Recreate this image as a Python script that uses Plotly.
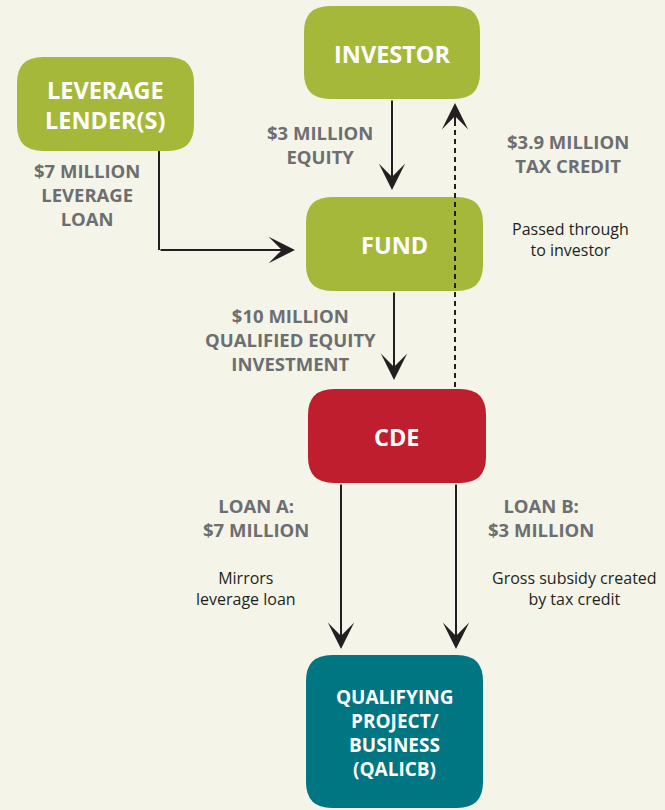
import plotly.graph_objects as go

# ---------------- data ----------------
node_labels = ["INVESTOR", "LEVERAGE<br>LENDER(S)", "FUND", "CDE",
               "QUALIFYING<br>PROJECT/<br>BUSINESS<br>(QALICB)"]
flow_labels = ["$3 MILLION<br>EQUITY", "$7 MILLION<br>LEVERAGE<br>LOAN",
               "$3.9 MILLION<br>TAX CREDIT",
               "$10 MILLION<br>QUALIFIED EQUITY<br>INVESTMENT",
               "LOAN A:<br>$7 MILLION", "LOAN B:<br>$3 MILLION"]
note_labels = ["Passed through<br>to investor", "Mirrors<br>leverage loan",
               "Gross subsidy created<br>by tax credit"]

# ---------------- layout / style ----------------
W, H = 665, 810
BG = "#F4F5E8"
GREEN, RED, TEAL = "#A5B83A", "#BE1E2D", "#007683"
LINE = "#231F20"
GRAY = "#6D6E71"
FONT = "Open Sans"

# boxes: (x0, y0, x1, y1, color, fontsize, line spacing)
boxes = [
    (304, 6, 480, 99, GREEN, 23.5, 30),
    (17, 57, 194, 151, GREEN, 23.5, 30),
    (306, 197, 483, 291, GREEN, 23.5, 30),
    (308, 389, 486, 483, RED, 23.5, 30),
    (306, 655, 483, 808, TEAL, 19, 24),
]
R = 26

def rrect(x0, y0, x1, y1, r):
    return (f"M{x0+r},{y0} H{x1-r} Q{x1},{y0} {x1},{y0+r} V{y1-r} "
            f"Q{x1},{y1} {x1-r},{y1} H{x0+r} Q{x0},{y1} {x0},{y1-r} "
            f"V{y0+r} Q{x0},{y0} {x0+r},{y0} Z")

def add_lines(annotations, text, cx, cy, spacing, font, bold):
    lines = text.split("<br>")
    n = len(lines)
    for i, ln in enumerate(lines):
        y = cy + (i - (n - 1) / 2) * spacing
        annotations.append(dict(x=cx, y=y, text=f"<b>{ln}</b>" if bold else ln,
                                showarrow=False, font=font,
                                xanchor="center", yanchor="middle", align="center"))

fig = go.Figure()
shapes = []
annotations = []

# connector lines without heads
shapes.append(dict(type="line", x0=159, y0=151, x1=159, y1=250,
                   line=dict(color=LINE, width=2)))
shapes.append(dict(type="line", x0=455, y0=387, x1=455, y1=115,
                   line=dict(color=LINE, width=2, dash="5px,4px")))

for (x0, y0, x1, y1, c, fs, sp), lab in zip(boxes, node_labels):
    shapes.append(dict(type="path", path=rrect(x0, y0, x1, y1, R),
                       fillcolor=c, line=dict(width=0), layer="below"))
    add_lines(annotations, lab, (x0 + x1) / 2, (y0 + y1) / 2 + 1, sp,
              dict(family=FONT, size=fs, color="white"), True)

# arrows: (start_x, start_y, tip_x, tip_y)
arrows = [
    (392, 99, 392, 190),
    (159, 250, 295, 250),
    (394, 291, 394, 380),
    (341, 483, 341, 649),
    (456, 483, 456, 649),
    (455, 125, 455, 103),
]
for sx, sy, tx, ty in arrows:
    annotations.append(dict(x=tx, y=ty, ax=sx, ay=sy, xref="x", yref="y",
                            axref="x", ayref="y", text="", showarrow=True,
                            arrowhead=3, arrowsize=2.2, arrowwidth=2,
                            arrowcolor=LINE, standoff=0))

# flow labels positions (center x, center y)
flow_pos = [(320, 144), (87, 194), (568, 153), (290, 339), (256, 517), (541, 517)]
for (x, y), lab in zip(flow_pos, flow_labels):
    annotations.append(dict(x=x, y=y, text=f"<b>{lab}</b>", showarrow=False,
                            font=dict(family=FONT, size=18.5, color=GRAY),
                            xanchor="center", yanchor="middle", align="center"))

note_pos = [(570, 239), (246, 588), (574, 588)]
for (x, y), lab in zip(note_pos, note_labels):
    annotations.append(dict(x=x, y=y, text=lab, showarrow=False,
                            font=dict(family=FONT, size=16, color=LINE),
                            xanchor="center", yanchor="middle", align="center"))

fig.update_layout(
    width=W, height=H, margin=dict(l=0, r=0, t=0, b=0),
    paper_bgcolor=BG, plot_bgcolor=BG,
    xaxis=dict(range=[0, W], visible=False, fixedrange=True),
    yaxis=dict(range=[H, 0], visible=False, fixedrange=True),
    shapes=shapes, annotations=annotations, showlegend=False,
)
fig.write_html("out.html", config={"displayModeBar": False},
               post_script="document.body.style.margin='0';document.body.style.overflow='hidden';")
